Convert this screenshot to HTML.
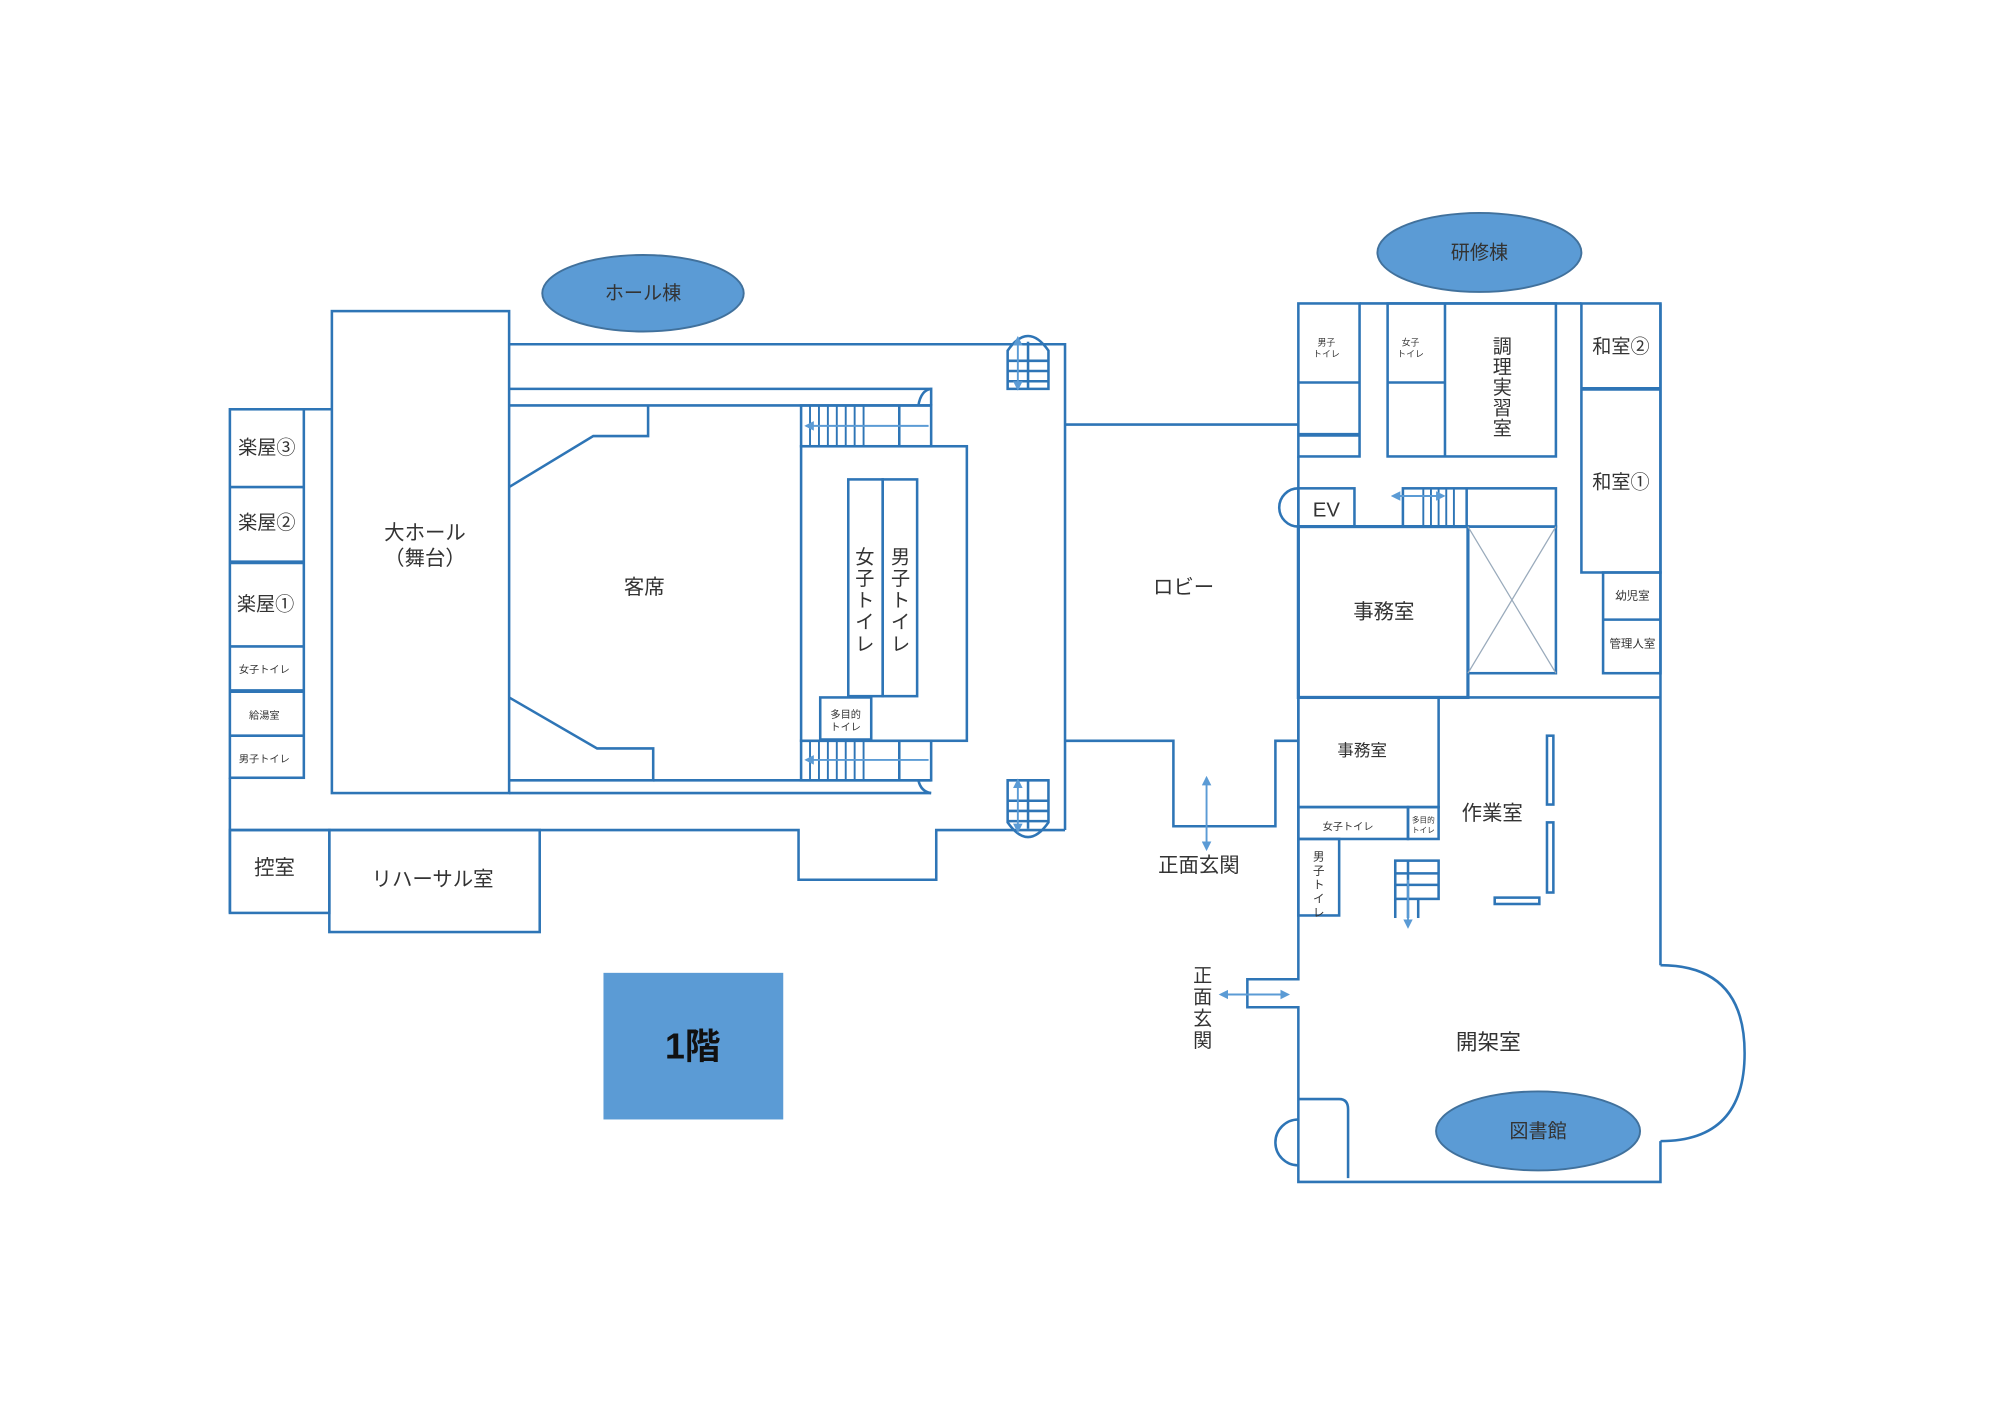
<!DOCTYPE html>
<html><head><meta charset="utf-8"><style>
html,body{margin:0;padding:0;background:#fff}
svg{display:block}
text{font-family:"Liberation Sans","Noto Sans CJK JP",sans-serif;fill:#333}
</style></head><body>
<svg width="2000" height="1414" viewBox="0 0 1568 1109" xmlns="http://www.w3.org/2000/svg">
<defs>
<marker id="ar" viewBox="0 0 10 10" refX="8" refY="5" markerWidth="5" markerHeight="5" orient="auto-start-reverse"><path d="M0,0L10,5L0,10z" fill="#5b9bd5"/></marker>
</defs>
<g fill="none" stroke="#2e75b6" stroke-width="2">
<rect x="260" y="244" width="139" height="378"/>
<polyline points="399,270 835,270 835,651"/>
<line x1="399" y1="305" x2="730" y2="305"/>
<path d="M720,318 Q722,306 730,305 L730,318"/>
<line x1="399" y1="318" x2="730" y2="318"/>
<polyline points="508,318 508,342 465,342 399,382"/>
<polyline points="399,547 468,587 512,587 512,612 399,612"/>
<line x1="512" y1="612" x2="730" y2="612"/>
<line x1="399" y1="622" x2="730" y2="622"/>
<path d="M720,612 Q722,621 730,622"/>
<rect x="628" y="318" width="102" height="32"/>
<line x1="705" y1="318" x2="705" y2="350"/>
<g stroke-width="1.5"><line x1="635" y1="318" x2="635" y2="350"/><line x1="642" y1="318" x2="642" y2="350"/><line x1="649" y1="318" x2="649" y2="350"/><line x1="656" y1="318" x2="656" y2="350"/><line x1="663" y1="318" x2="663" y2="350"/><line x1="670" y1="318" x2="670" y2="350"/><line x1="677" y1="318" x2="677" y2="350"/></g>
<rect x="628" y="350" width="130" height="231"/>
<rect x="665" y="376" width="27" height="170"/>
<rect x="692" y="376" width="27" height="170"/>
<rect x="643" y="547" width="40" height="33"/>
<rect x="628" y="581" width="102" height="31"/>
<line x1="705" y1="581" x2="705" y2="612"/>
<g stroke-width="1.5"><line x1="635" y1="581" x2="635" y2="612"/><line x1="642" y1="581" x2="642" y2="612"/><line x1="649" y1="581" x2="649" y2="612"/><line x1="656" y1="581" x2="656" y2="612"/><line x1="663" y1="581" x2="663" y2="612"/><line x1="670" y1="581" x2="670" y2="612"/><line x1="677" y1="581" x2="677" y2="612"/></g>
<path d="M790,305 L790,275 Q806,252 822,275 L822,305 Z"/>
<line x1="790" y1="283" x2="822" y2="283"/><line x1="790" y1="291" x2="822" y2="291"/><line x1="790" y1="299" x2="822" y2="299"/>
<line x1="806" y1="268" x2="806" y2="305"/>
<path d="M790,612 L790,645 Q806,668 822,645 L822,612 Z"/>
<line x1="790" y1="628" x2="822" y2="628"/><line x1="790" y1="636" x2="822" y2="636"/><line x1="790" y1="644" x2="822" y2="644"/>
<line x1="806" y1="612" x2="806" y2="650"/>
<rect x="180" y="321" width="58" height="289"/>
<line x1="180" y1="382" x2="238" y2="382"/>
<line x1="180" y1="441" x2="238" y2="441" stroke-width="3"/>
<line x1="180" y1="507" x2="238" y2="507"/>
<line x1="180" y1="542" x2="238" y2="542" stroke-width="3"/>
<line x1="180" y1="577" x2="238" y2="577"/>
<line x1="238" y1="321" x2="260" y2="321"/>
<polyline points="180,610 180,716"/>
<polyline points="180,651 626,651 626,690 734,690 734,651 835,651"/>
<rect x="180" y="651" width="78" height="65"/>
<rect x="258" y="651" width="165" height="80"/>
<line x1="835" y1="333" x2="1018" y2="333"/>
<polyline points="835,581 920,581 920,648 1000,648 1000,581 1018,581"/>
<rect x="1018" y="238" width="48" height="120"/>
<line x1="1018" y1="300" x2="1066" y2="300"/>
<line x1="1018" y1="341" x2="1066" y2="341" stroke-width="3"/>
<rect x="1088" y="238" width="132" height="120"/>
<line x1="1133" y1="238" x2="1133" y2="358"/>
<line x1="1088" y1="300" x2="1133" y2="300"/>
<line x1="1066" y1="238" x2="1240" y2="238"/>
<rect x="1240" y="238" width="62" height="211"/>
<line x1="1240" y1="305" x2="1302" y2="305" stroke-width="3"/>
<rect x="1257" y="449" width="45" height="79"/>
<line x1="1257" y1="486" x2="1302" y2="486"/>
<line x1="1302" y1="238" x2="1302" y2="757"/>
<rect x="1018" y="383" width="44" height="30"/>
<path d="M1018,383 A15,15 0 0 0 1018,413"/>
<rect x="1100" y="383" width="120" height="30"/>
<line x1="1150" y1="383" x2="1150" y2="413"/>
<g stroke-width="1.5"><line x1="1116" y1="383" x2="1116" y2="413"/><line x1="1122" y1="383" x2="1122" y2="413"/><line x1="1128" y1="383" x2="1128" y2="413"/><line x1="1134" y1="383" x2="1134" y2="413"/><line x1="1140" y1="383" x2="1140" y2="413"/></g>
<rect x="1018" y="413" width="133" height="134" stroke-width="2.5"/>
<rect x="1151" y="413" width="69" height="115"/>
<g stroke="#9ab" stroke-width="1"><line x1="1151" y1="413" x2="1220" y2="528"/><line x1="1220" y1="413" x2="1151" y2="528"/></g>
<line x1="1151" y1="547" x2="1302" y2="547"/>
<rect x="1018" y="547" width="110" height="86"/>
<rect x="1018" y="633" width="86" height="25"/>
<rect x="1104" y="633" width="24" height="25"/>
<rect x="1018" y="658" width="32" height="60"/>
<rect x="1094" y="675" width="34" height="30"/>
<line x1="1094" y1="685" x2="1128" y2="685"/><line x1="1094" y1="694" x2="1128" y2="694"/>
<line x1="1104" y1="675" x2="1104" y2="720"/><line x1="1094" y1="705" x2="1094" y2="720"/><line x1="1112" y1="705" x2="1112" y2="720"/>
<rect x="1213" y="577" width="5" height="54"/>
<rect x="1213" y="645" width="5" height="55"/>
<rect x="1172" y="704" width="35" height="5"/>
<polyline points="1018,358 1018,768 978,768 978,790 1018,790 1018,927 1302,927 1302,895"/>
<path d="M1018,862 L1050,862 Q1057,862 1057,870 L1057,924"/>
<path d="M1302,895 Q1368,895 1368,826 Q1368,757 1302,757"/>
<path d="M1018,878 A18,18 0 0 0 1018,914"/>
</g>
<g stroke="#5b9bd5" stroke-width="1.5">
<line x1="946" y1="610" x2="946" y2="666" marker-start="url(#ar)" marker-end="url(#ar)"/>
<line x1="957" y1="780" x2="1010" y2="780" marker-start="url(#ar)" marker-end="url(#ar)"/>
<line x1="1092" y1="389" x2="1132" y2="389" marker-start="url(#ar)" marker-end="url(#ar)"/>
<line x1="1104" y1="690" x2="1104" y2="727" marker-end="url(#ar)"/>
<line x1="798" y1="265" x2="798" y2="305" marker-start="url(#ar)" marker-end="url(#ar)"/>
<line x1="798" y1="612" x2="798" y2="652" marker-start="url(#ar)" marker-end="url(#ar)"/>
<line x1="728" y1="334" x2="632" y2="334" marker-end="url(#ar)"/>
<line x1="728" y1="596" x2="632" y2="596" marker-end="url(#ar)"/>
</g>
<g fill="#5b9bd5" stroke="#41719c" stroke-width="1.5">
<ellipse cx="504" cy="230" rx="79" ry="30"/>
<ellipse cx="1160" cy="198" rx="80" ry="31"/>
<ellipse cx="1206" cy="887" rx="80" ry="31"/>
</g>
<rect x="473" y="763" width="141" height="115" fill="#5b9bd5"/>
<g font-size="15" text-anchor="middle">
<text x="504" y="235">ホール棟</text>
<text x="1160" y="203">研修棟</text>
<text x="1206" y="892">図書館</text>
<text x="543" y="830" font-size="28" font-weight="bold" style="fill:#111">1階</text>
<text x="333" y="423" font-size="16">大ホール</text>
<text x="333" y="443" font-size="16">（舞台）</text>
<text x="505" y="466" font-size="16">客席</text>
<text x="209" y="356">楽屋③</text>
<text x="209" y="415">楽屋②</text>
<text x="208" y="479">楽屋①</text>
<text x="207" y="528" font-size="8">女子トイレ</text>
<text x="207" y="564" font-size="8">給湯室</text>
<text x="207" y="598" font-size="8">男子トイレ</text>
<text x="215" y="686" font-size="16">控室</text>
<text x="339" y="695" font-size="16">リハーサル室</text>
<text x="663" y="563" font-size="8">多目的</text>
<text x="663" y="573" font-size="8">トイレ</text>
<text x="928" y="466" font-size="16">ロビー</text>
<text x="940" y="684" font-size="16">正面玄関</text>
<text x="1040" y="405" font-size="16">EV</text>
<text x="1085" y="485" font-size="16">事務室</text>
<text x="1068" y="593" font-size="13">事務室</text>
<text x="1170" y="643" font-size="16">作業室</text>
<text x="1167" y="823" font-size="17">開架室</text>
<text x="1271" y="277">和室②</text>
<text x="1271" y="383">和室①</text>
<text x="1280" y="470" font-size="9">幼児室</text>
<text x="1280" y="508" font-size="9">管理人室</text>
<text x="1057" y="651" font-size="8">女子トイレ</text>
<text x="1116" y="645" font-size="6">多目的</text>
<text x="1116" y="653" font-size="6">トイレ</text>
<text x="1040" y="271" font-size="7">男子</text>
<text x="1040" y="280" font-size="7">トイレ</text>
<text x="1106" y="271" font-size="7">女子</text>
<text x="1106" y="280" font-size="7">トイレ</text>
</g>
<g font-size="15" text-anchor="middle">
<text x="678" y="442">女</text><text x="678" y="459">子</text><text x="678" y="476">ト</text><text x="678" y="493">イ</text><text x="678" y="510">レ</text>
<text x="706" y="442">男</text><text x="706" y="459">子</text><text x="706" y="476">ト</text><text x="706" y="493">イ</text><text x="706" y="510">レ</text>
<text x="1178" y="277">調</text><text x="1178" y="293">理</text><text x="1178" y="309">実</text><text x="1178" y="325">習</text><text x="1178" y="341">室</text>
<text x="943" y="770">正</text><text x="943" y="787">面</text><text x="943" y="804">玄</text><text x="943" y="821">関</text>
<text x="1034" y="675" font-size="9">男</text><text x="1034" y="686" font-size="9">子</text><text x="1034" y="697" font-size="9">ト</text><text x="1034" y="708" font-size="9">イ</text><text x="1034" y="719" font-size="9">レ</text>
</g>
</svg>
</body></html>
